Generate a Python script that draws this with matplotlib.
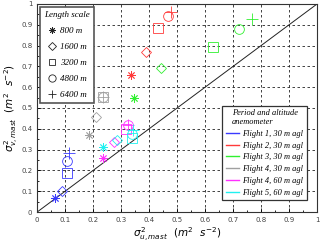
import numpy as np
import matplotlib.pyplot as plt
from matplotlib.lines import Line2D

# -----------------------------
# DATA (order: 800, 1600, 3200, 4800, 6400 m)
# -----------------------------
scales = ["800 m", "1600 m", "3200 m", "4800 m", "6400 m"]
flights = ["Flight 1, 30 m agl", "Flight 2, 30 m agl", "Flight 3, 30 m agl",
           "Flight 4, 30 m agl", "Flight 4, 60 m agl", "Flight 5, 60 m agl"]

f1_u = [0.065, 0.088, 0.106, 0.106, 0.115]
f1_v = [0.066, 0.100, 0.190, 0.243, 0.282]
f2_u = [0.335, 0.388, 0.433, 0.467, 0.477]
f2_v = [0.657, 0.768, 0.886, 0.942, 0.960]
f3_u = [0.346, 0.443, 0.627, 0.721, 0.768]
f3_v = [0.550, 0.692, 0.792, 0.878, 0.926]
f4a_u = [0.186, 0.210, 0.237, 0.237, 0.237]
f4a_v = [0.370, 0.458, 0.553, 0.553, 0.553]
f4b_u = [0.237, 0.276, 0.318, 0.326, 0.326]
f4b_v = [0.258, 0.336, 0.400, 0.420, 0.420]
f5_u = [0.235, 0.287, 0.338, 0.340, 0.342]
f5_v = [0.314, 0.348, 0.357, 0.374, 0.395]

all_u = [f1_u, f2_u, f3_u, f4a_u, f4b_u, f5_u]
all_v = [f1_v, f2_v, f3_v, f4a_v, f4b_v, f5_v]
colors = ["#3a3aff", "#ff3a3a", "#30f030", "#a0a0a0", "#ff30ff", "#20f0f0"]
markers = [(8, 2, 0), "D", "s", "o", "+"]
msizes = [6, 5, 6.5, 7, 8]

ticks = np.round(np.arange(0, 1.01, 0.1), 1)
tick_labels = ["0"] + [f"{t:g}" for t in ticks[1:-1]] + ["1"]

# -----------------------------
# PLOT
# -----------------------------
fig = plt.figure(figsize=(3.2, 2.46), dpi=100)
ax = fig.add_axes([0.116, 0.138, 0.875, 0.846])

ax.plot([0, 1], [0, 1], color="#222222", lw=0.7, zorder=2)

for u, v, c in zip(all_u, all_v, colors):
    for k in range(len(scales)):
        ax.plot(u[k], v[k], linestyle="none", marker=markers[k], ms=msizes[k],
                mfc="none", mec=c, mew=0.6, zorder=3)

ax.set_xlim(0, 1)
ax.set_ylim(0, 1)
ax.set_xticks(ticks)
ax.set_yticks(ticks)
ax.set_xticklabels(tick_labels)
ax.set_yticklabels(tick_labels)
ax.set_xticks(np.arange(0.05, 1, 0.1), minor=True)
ax.set_yticks(np.arange(0.05, 1, 0.1), minor=True)
ax.tick_params(which="both", direction="in", labelsize=5, labelcolor="#444444",
               length=3, width=0.6)
ax.tick_params(which="minor", length=1.5)
ax.grid(True, which="major", color="#222222", linestyle=(0, (3, 3)), lw=0.6)
for s in ax.spines.values():
    s.set_linewidth(0.8)
    s.set_color("#333333")

ax.set_xlabel(r"$\sigma^2_{u,mast}\ \ (m^2\ \ s^{-2})$", fontsize=7.5, labelpad=2)
ax.set_ylabel(r"$\sigma^2_{v,mast}\ \ (m^2\ \ s^{-2})$", fontsize=7.5, labelpad=0)

# legend 1: length scale
h1 = [Line2D([], [], linestyle="none", marker=m, ms=s * 0.75, mfc="none",
             mec="#222222", mew=0.6) for m, s in zip(markers, msizes)]
leg1 = ax.legend(h1, scales, title="Length scale", loc="upper left",
                 bbox_to_anchor=(0.011, 0.986), fancybox=False, framealpha=1,
                 edgecolor="#555555", handlelength=0.8, handletextpad=0.5,
                 labelspacing=0.85, borderpad=0.45, borderaxespad=0,
                 prop={"family": "Liberation Serif", "style": "italic", "size": 6.5},
                 title_fontproperties={"family": "Liberation Serif",
                                       "style": "italic", "size": 6.5})
leg1.get_frame().set_linewidth(1.2)
ax.add_artist(leg1)

# legend 2: flights
h2 = [Line2D([], [], color=c, lw=1.0) for c in colors]
leg2 = ax.legend(h2, flights, title="Period and altitude\nanemometer",
                 loc="lower right", bbox_to_anchor=(0.963, 0.058), fancybox=False,
                 framealpha=1, edgecolor="#333333", handlelength=1.6,
                 handletextpad=0.4, labelspacing=0.45, borderpad=0.4,
                 borderaxespad=0,
                 prop={"family": "Liberation Serif", "style": "italic", "size": 6},
                 title_fontproperties={"family": "Liberation Serif",
                                       "style": "italic", "size": 6})
leg2.get_frame().set_linewidth(0.9)

fig.savefig("out.png", dpi=100)
